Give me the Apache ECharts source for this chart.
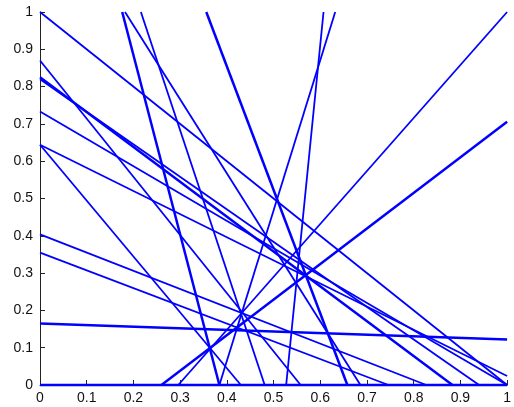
<!DOCTYPE html>
<html>
<head>
<meta charset="utf-8">
<script src="https://cdn.jsdelivr.net/npm/echarts@6/dist/echarts.min.js"></script>
<style>
  html, body { margin: 0; padding: 0; background: #fff; }
  #main { width: 514px; height: 407px; }
</style>
</head>
<body>
<div id="main"></div>
<script>
// each line goes from (startX, startY) to (endX, endY)
const startX = [0, 0.26, 0.296, 0.607, 0.632, 0.176, 0.356, 0.216, 0, 0, 0, 0, 0, 0, 0.182, 0, 0, 0, 0];
const startY = [1, 0, 0, 1, 1, 1, 1, 1, 0.644, 0, 0.165, 0.355, 0.404, 0.87, 1, 0.825, 0.82, 0.733, 0.644];
const endX = [1, 1, 1, 0.527, 0.384, 0.384, 0.658, 0.481, 0.43, 1, 1, 0.746, 0.827, 0.558, 0.686, 0.883, 0.94, 1, 1];
const endY = [0, 0.706, 1, 0, 0, 0, 0, 0, 0, 0, 0.122, 0, 0, 0, 0, 0, 0, 0, 0.024];

const tickLabels = ['0', '0.1', '0.2', '0.3', '0.4', '0.5', '0.6', '0.7', '0.8', '0.9', '1'];

// lines that look heavier in the original
const heavy = [1, 5, 6, 9, 10, 15];

var chart = echarts.init(document.getElementById('main'));

let series = []
startX.forEach((x, i) => {
  series.push({
    type: 'line',
    data: [[x, startY[i]], [endX[i], endY[i]]],
    symbol: 'none',
    clip: false,
    silent: true,
    lineStyle: {
      color: '#0000ff',
      width: heavy.indexOf(i) >= 0 ? 2.5 : 1.8
    }
  })
})

const axisCommon = {
  type: 'value',
  min: 0,
  max: 1,
  interval: 0.1,
  splitLine: { show: false },
  axisLine: { show: true, lineStyle: { color: '#222', width: 1 } },
  axisTick: { show: true, inside: true, length: 5, lineStyle: { color: '#222' } },
  axisLabel: {
    color: '#111',
    fontSize: 14,
    fontFamily: 'Liberation Sans',
    formatter: (v) => tickLabels[Math.round(v * 10)]
  }
}

chart.setOption({
  animation: false,
  grid: { left: 40, right: 1, top: 12, bottom: 22 },
  xAxis: Object.assign({}, axisCommon, {
    axisLabel: Object.assign({}, axisCommon.axisLabel, { margin: 6 })
  }),
  yAxis: Object.assign({}, axisCommon, {
    axisLabel: Object.assign({}, axisCommon.axisLabel, { margin: 7 })
  }),
  series: series
})
</script>
</body>
</html>
